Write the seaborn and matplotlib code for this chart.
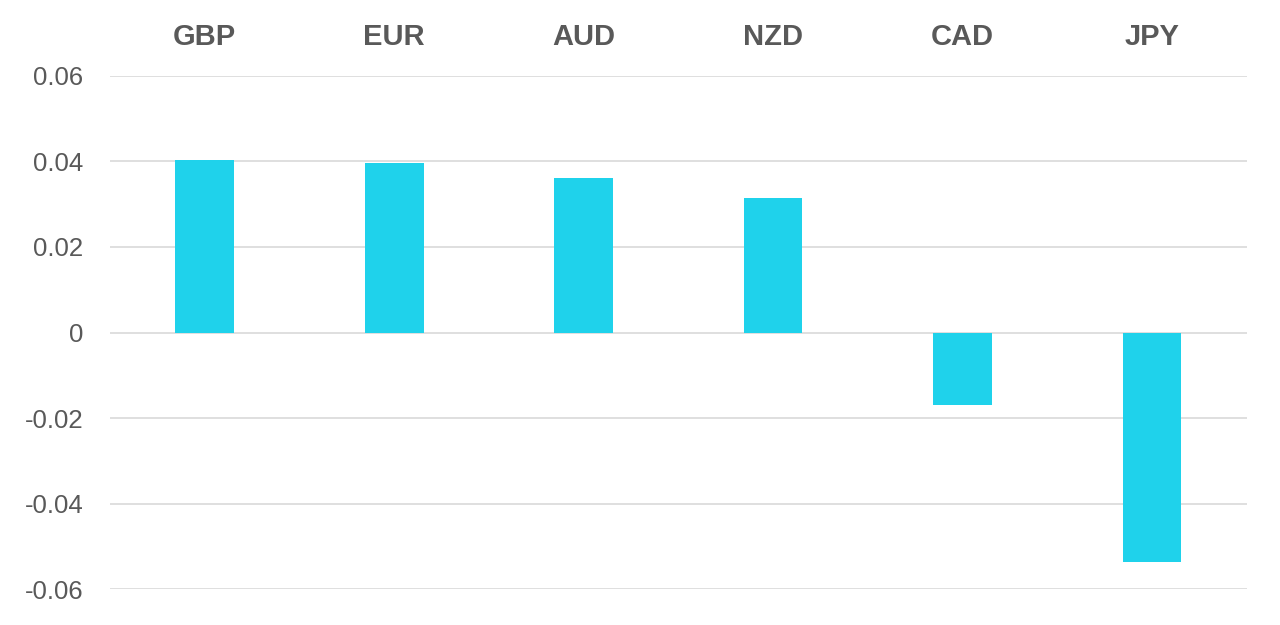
import matplotlib
matplotlib.use("Agg")
import matplotlib.pyplot as plt
import seaborn as sns
import pandas as pd
from matplotlib.ticker import FuncFormatter

currencies = ["GBP", "EUR", "AUD", "NZD", "CAD", "JPY"]
values = [0.0403, 0.0395, 0.0362, 0.0315, -0.0170, -0.0537]
y_ticks = [-0.06, -0.04, -0.02, 0, 0.02, 0.04, 0.06]

sns.set_theme(style="white")
plt.rcParams["font.family"] = ["Liberation Sans", "DejaVu Sans"]
plt.rcParams["axes.unicode_minus"] = False

df = pd.DataFrame({"currency": currencies, "value": values})

fig = plt.figure(figsize=(12.8, 6.25), dpi=100)
ax = fig.add_axes([110 / 1280, (625 - 589.3) / 625, (1246.7 - 110) / 1280, (589.3 - 75.7) / 625])

sns.barplot(data=df, x="currency", y="value", color="#1fd2eb", saturation=1,
            width=0.31, ax=ax, zorder=3, linewidth=0)

ax.set_ylim(-0.06, 0.06)
ax.set_yticks(y_ticks)
ax.yaxis.set_major_formatter(FuncFormatter(lambda v, p: "0" if abs(v) < 1e-9 else f"{v:.2f}"))
ax.grid(axis="y", color="#dcdcdc", linewidth=1.3, zorder=0)
ax.grid(axis="x", visible=False)
for s in ax.spines.values():
    s.set_visible(False)

ax.xaxis.tick_top()
ax.tick_params(axis="x", length=0, pad=18, labelsize=21, labelcolor="#595959")
for lbl in ax.get_xticklabels():
    lbl.set_fontweight("bold")
ax.tick_params(axis="y", length=0, pad=19, labelsize=18.5, labelcolor="#595959")
ax.set_xlabel("")
ax.set_ylabel("")

fig.savefig("out.png", dpi=100, facecolor="white")
